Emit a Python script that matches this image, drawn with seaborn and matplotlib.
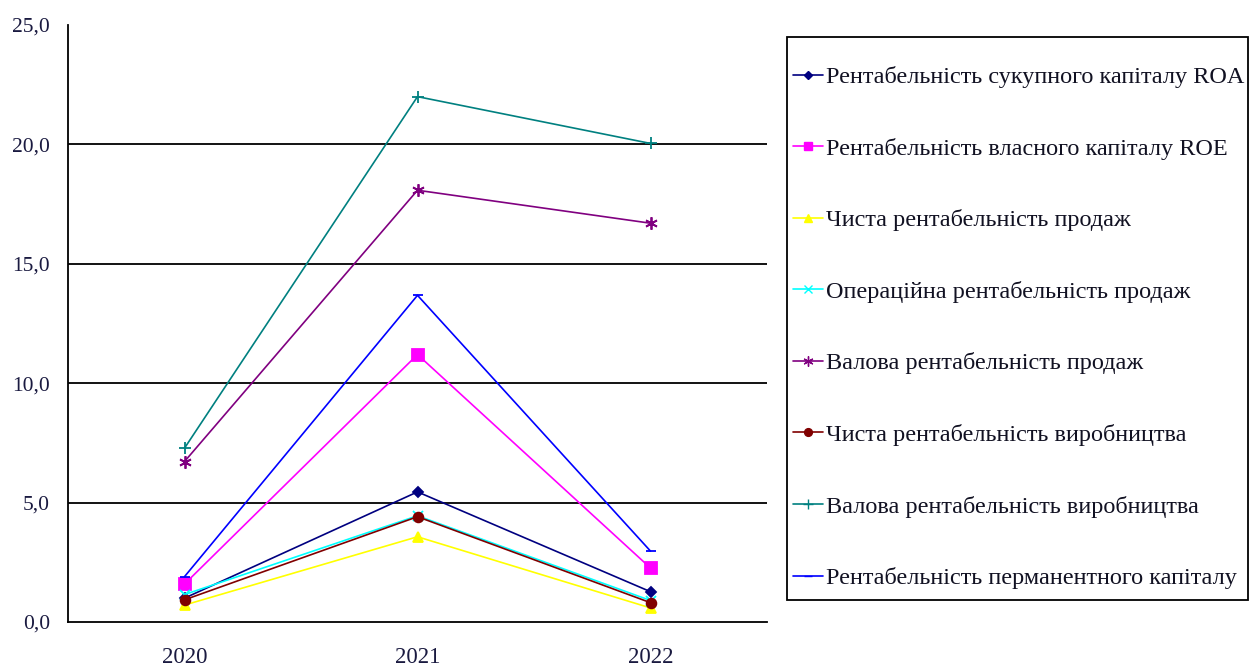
import matplotlib
matplotlib.use("Agg")
import matplotlib.pyplot as plt
from matplotlib.patches import Rectangle
from matplotlib.ticker import FixedLocator, FuncFormatter
import seaborn as sns
import pandas as pd

years = ["2020", "2021", "2022"]

series_names = [
    "Рентабельність сукупного капіталу ROA",
    "Рентабельність власного капіталу ROE",
    "Чиста рентабельність продаж",
    "Операційна рентабельність продаж",
    "Валова рентабельність продаж",
    "Чиста рентабельність виробництва",
    "Валова рентабельність виробництва",
    "Рентабельність перманентного капіталу",
]

roa = [1.0, 5.45, 1.27]
roe = [1.59, 11.2, 2.26]
net_sales = [0.71, 3.57, 0.59]
oper_sales = [1.15, 4.45, 0.9]
gross_sales = [6.72, 18.08, 16.7]
net_prod = [0.93, 4.41, 0.81]
gross_prod = [7.28, 22.0, 20.04]
permanent = [1.9, 13.68, 2.97]

series_values = [roa, roe, net_sales, oper_sales, gross_sales, net_prod, gross_prod, permanent]

colors = ["#000080", "#FF00FF", "#FFFF00", "#00FFFF", "#800080", "#800000", "#008080", "#0000FF"]
markers = ["D", "s", "^", "x", (6, 2, 0), "o", "+", "_"]
marker_sizes = [5, 8, 7, 7, 9, 7, 9, 7]

rows = []
for name, vals in zip(series_names, series_values):
    for y, v in zip(years, vals):
        rows.append({"Рік": y, "Значення": v, "Показник": name})
df = pd.DataFrame(rows)

sns.set_style("white")
plt.rcParams["font.family"] = ["Liberation Serif", "DejaVu Serif"]

fig = plt.figure(figsize=(12.5, 6.7), dpi=100)
ax = fig.add_axes([0.0544, 0.0716, 0.5592, 0.8911])

# one call per indicator so filled and line-art markers can coexist
for name, c, m, ms in zip(series_names, colors, markers, marker_sizes):
    sub = df[df["Показник"] == name]
    sns.lineplot(
        data=sub, x="Рік", y="Значення", color=c, marker=m, markersize=ms,
        markerfacecolor=c, markeredgecolor=c, markeredgewidth=1.3,
        linewidth=1.2, ax=ax, legend=False, sort=False,
    )

ax.set_xlim(-0.5, 2.5)
ax.set_ylim(0, 25)
ax.set_xlabel("")
ax.set_ylabel("")

ax.yaxis.set_major_locator(FixedLocator([0, 5, 10, 15, 20, 25]))
ax.yaxis.set_major_formatter(FuncFormatter(lambda v, p: f"{v:.1f}".replace(".", ",")))
ax.set_xticks([0, 1, 2])
ax.set_xticklabels(years, fontsize=16.5, color="#1a1a40")
ax.xaxis.set_minor_locator(FixedLocator([-0.5, 0.5, 1.5, 2.5]))
ax.tick_params(axis="x", which="major", length=0, pad=18)
ax.tick_params(axis="x", which="minor", length=7, width=1, color="black", direction="out")
ax.tick_params(axis="y", which="major", length=8, width=1, color="black", direction="inout",
               labelsize=15.5, pad=9)
for lab in ax.get_yticklabels():
    lab.set_color("#1a1a40")

for v in [5, 10, 15, 20]:
    ax.axhline(v, color="black", linewidth=1.3, zorder=0)

for side in ["top", "right"]:
    ax.spines[side].set_visible(False)
for side in ["left", "bottom"]:
    ax.spines[side].set_color("black")
    ax.spines[side].set_linewidth(1.3)

# legend box drawn separately so the entries can sit tight to its left edge
W, H = 1250, 670
fig.patches.append(Rectangle((787 / W, 1 - 600 / H), (1248 - 787) / W, (600 - 37) / H,
                             transform=fig.transFigure, fill=False, edgecolor="black",
                             linewidth=1.3))

handles = [
    plt.Line2D([], [], color=c, marker=m, markersize=ms * 0.8, markerfacecolor=c,
               markeredgecolor=c, linewidth=1.2)
    for c, m, ms in zip(colors, markers, marker_sizes)
]
leg = fig.legend(
    handles, series_names, loc="upper left", bbox_to_anchor=(793 / W, 1 - 66 / H),
    frameon=False, fontsize=17.5, handlelength=1.25, handletextpad=0.1,
    labelspacing=2.04, borderpad=0, borderaxespad=0,
)
for t in leg.get_texts():
    t.set_color("#111122")

fig.savefig("out.png", dpi=100)
